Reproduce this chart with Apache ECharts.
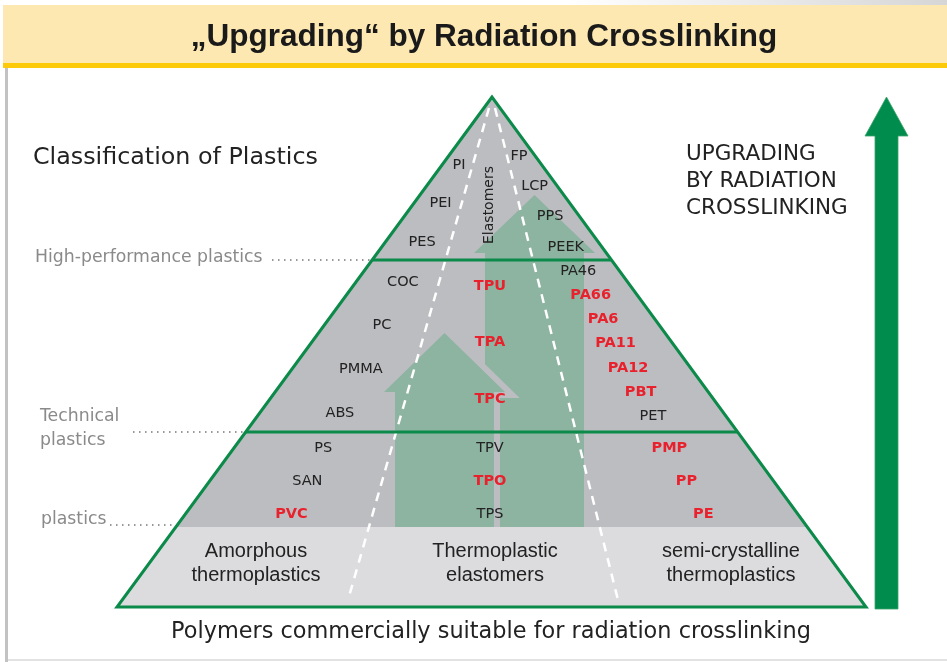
<!DOCTYPE html>
<html>
<head>
<meta charset="utf-8">
<script src="https://cdn.jsdelivr.net/npm/echarts/dist/echarts.min.js"></script>
<style>
  html, body { margin: 0; padding: 0; background: #fff; }
  #chart { width: 947px; height: 662px; }
</style>
</head>
<body>
<div id="chart"></div>
<script>
// tiers (top to bottom) and columns of the pyramid
const tierNames = ['High-performance plastics', 'Technical\nplastics', 'plastics']
const columnNames = ['Amorphous\nthermoplastics', 'Thermoplastic\nelastomers', 'semi-crystalline\nthermoplastics']

// polymers per column and tier
const amorphousHigh = ['PI', 'PEI', 'PES']
const amorphousTech = ['COC', 'PC', 'PMMA', 'ABS']
const amorphousStd = ['PS', 'SAN', 'PVC']
const elastomerTech = ['TPU', 'TPA', 'TPC']
const elastomerStd = ['TPV', 'TPO', 'TPS']
const crystallineHigh = ['FP', 'LCP', 'PPS', 'PEEK']
const crystallineTech = ['PA46', 'PA66', 'PA6', 'PA11', 'PA12', 'PBT', 'PET']
const crystallineStd = ['PMP', 'PP', 'PE']

// shown in red: commercially crosslinked by radiation
const crosslinkable = ['PVC', 'TPU', 'TPA', 'TPC', 'TPO', 'PA66', 'PA6', 'PA11', 'PA12', 'PBT', 'PMP', 'PP', 'PE']

const chartTitle = '\u201EUpgrading\u201C by Radiation Crosslinking'
const heading = 'Classification of Plastics'
const arrowText = 'UPGRADING\nBY RADIATION\nCROSSLINKING'
const footer = 'Polymers commercially suitable for radiation crosslinking'

// ---- layout ----
const GRAY = '#bcbdc1'
const LIGHT = '#dcdcdf'
const GREEN = '#0b8a4a'
const ARROW = '#8db3a1'
const RED = '#e8212c'
const INK = '#222222'
const MUTED = '#8a8a8a'
const SANS = '"DejaVu Sans", Verdana, sans-serif'
const NARROW = '"Liberation Sans", Arial, sans-serif'

const APEX = [492, 97]
const BASE_Y = 607
const BASE_L = 117
const BASE_R = 866
const TIER_Y = [260, 432, 527]

function edgeX(y, side) {
  const t = (y - APEX[1]) / (BASE_Y - APEX[1])
  return side < 0 ? APEX[0] - t * (APEX[0] - BASE_L) : APEX[0] + t * (BASE_R - APEX[0])
}

function arrowPts(cx, tipY, baseY, shaftHalf, headHalf, headH) {
  const hy = tipY + headH
  return [
    [cx - shaftHalf, baseY], [cx - shaftHalf, hy], [cx - headHalf, hy], [cx, tipY],
    [cx + headHalf, hy], [cx + shaftHalf, hy], [cx + shaftHalf, baseY]
  ]
}

// label guide lines per column
const guideX = [
  y => 459 - 0.48 * (y - 165),
  y => 490,
  y => 519 + 0.515 * (y - 156)
]
const groups = [
  { names: amorphousHigh, col: 0, y0: 165, dy: 38.5 },
  { names: amorphousTech, col: 0, y0: 282, dy: 43.7 },
  { names: amorphousStd, col: 0, y0: 448, dy: 33 },
  { names: elastomerTech, col: 1, y0: 286, dy: 56.5 },
  { names: elastomerStd, col: 1, y0: 448, dy: 33 },
  { names: crystallineHigh, col: 2, y0: 156, dy: 30.3 },
  { names: crystallineTech, col: 2, y0: 271, dy: 24.2 },
  { names: crystallineStd, col: 2, y0: 448, dy: 33 }
]
const labelData = []
groups.forEach(g => {
  g.names.forEach((n, i) => {
    const y = g.y0 + i * g.dy
    labelData.push([guideX[g.col](y), y, n])
  })
})

const columnX = [256, 495, 731]
const tierLabelPos = [[35, 258], [40, 429], [41, 520]]
const leaderStart = [272, 133, 110]

function renderPyramid(params, api) {
  const c = p => api.coord(p)
  const poly = (pts, style) => ({ type: 'polygon', shape: { points: pts.map(c) }, style })
  const seg = (a, b, style) => {
    const p = c(a), q = c(b)
    return { type: 'line', shape: { x1: p[0], y1: p[1], x2: q[0], y2: q[1] }, style }
  }
  const yS = TIER_Y[2]
  const leftArrow = arrowPts(444.5, 333, yS, 49.5, 60.5, 59)
  const children = [
    poly([APEX, [edgeX(yS, -1), yS], [edgeX(yS, 1), yS]], { fill: GRAY }),
    poly([[edgeX(yS, -1), yS], [BASE_L, BASE_Y], [BASE_R, BASE_Y], [edgeX(yS, 1), yS]], { fill: LIGHT }),
    poly(arrowPts(534.5, 195, yS, 49.5, 60.5, 58), { fill: ARROW }),
    { type: 'polyline', shape: { points: leftArrow.slice(3).map(c) }, style: { stroke: GRAY, lineWidth: 12, fill: null, lineJoin: 'miter' } },
    poly(leftArrow, { fill: ARROW }),
    seg([489, 108], [348, 600], { stroke: '#fff', lineWidth: 2.5, lineDash: [9, 7] }),
    seg([495, 108], [618, 600], { stroke: '#fff', lineWidth: 2.5, lineDash: [9, 7] })
  ]
  TIER_Y.slice(0, 2).forEach(y => {
    children.push(seg([edgeX(y, -1), y], [edgeX(y, 1), y], { stroke: GREEN, lineWidth: 3 }))
  })
  // leader lines from tier labels to the pyramid edge
  TIER_Y.forEach((y, i) => {
    const ly = i === 2 ? y - 2 : y
    children.push(seg([leaderStart[i], ly], [edgeX(ly, -1) - 2, ly], { stroke: '#333', lineWidth: 1.2, lineDash: [1.5, 4.5] }))
  })
  children.push(poly([APEX, [BASE_L, BASE_Y], [BASE_R, BASE_Y]], { fill: null, stroke: GREEN, lineWidth: 3, lineJoin: 'miter' }))
  // big upgrading arrow on the right
  children.push(poly(arrowPts(886.5, 97, 609, 11.5, 21.5, 39), { fill: '#008c4c', stroke: '#3aa36a', lineWidth: 0.8 }))
  return { type: 'group', children }
}

function renderPolymer(params, api) {
  const p = api.coord([api.value(0), api.value(1)])
  const name = labelData[params.dataIndex][2]
  const red = crosslinkable.includes(name)
  return {
    type: 'text', x: p[0], y: p[1],
    style: {
      text: name, fill: red ? RED : INK, fontFamily: SANS, fontSize: 14.5,
      fontWeight: red ? 'bold' : 'normal', align: 'center', verticalAlign: 'middle'
    }
  }
}

function renderColumn(params, api) {
  const p = api.coord([columnX[params.dataIndex], 563])
  return {
    type: 'text', x: p[0], y: p[1],
    style: {
      text: columnNames[params.dataIndex], fill: INK, fontFamily: NARROW, fontSize: 20,
      lineHeight: 24, align: 'center', verticalAlign: 'middle'
    }
  }
}

function renderTier(params, api) {
  const pos = tierLabelPos[params.dataIndex]
  const p = api.coord(pos)
  return {
    type: 'text', x: p[0], y: p[1],
    style: {
      text: tierNames[params.dataIndex], fill: MUTED, fontFamily: SANS, fontSize: 17.3,
      lineHeight: 24, align: 'left', verticalAlign: 'middle'
    }
  }
}

const chart = echarts.init(document.getElementById('chart'), null, { renderer: 'canvas' })

const option = {
  animation: false,
  backgroundColor: '#fff',
  grid: { left: 0, right: 0, top: 0, bottom: 0 },
  xAxis: { type: 'value', min: 0, max: 947, show: false },
  yAxis: { type: 'value', min: 0, max: 662, inverse: true, show: false },
  graphic: [
    { type: 'rect', shape: { x: 0, y: 0, width: 947, height: 5 }, style: { fill: new echarts.graphic.LinearGradient(0, 0, 1, 0, [{ offset: 0, color: '#fff' }, { offset: 0.6, color: '#fff' }, { offset: 1, color: '#d6d6d6' }]) }, z: -1 },
    { type: 'rect', shape: { x: 3, y: 5, width: 944, height: 58 }, style: { fill: '#fde8b1' }, z: -1 },
    { type: 'rect', shape: { x: 3, y: 63, width: 944, height: 5 }, style: { fill: '#fdca0a' }, z: -1 },
    { type: 'rect', shape: { x: 5, y: 68, width: 3, height: 594 }, style: { fill: '#c2c2c4' }, z: -1 },
    { type: 'rect', shape: { x: 8, y: 659, width: 939, height: 2 }, style: { fill: '#e2e2e2' }, z: -1 },
    {
      type: 'text', x: 484, y: 37,
      style: { text: chartTitle, fill: '#1a1a1a', fontFamily: NARROW, fontSize: 31.5, fontWeight: 'bold', align: 'center', verticalAlign: 'middle' }
    },
    {
      type: 'text', x: 33, y: 158,
      style: { text: heading, fill: INK, fontFamily: SANS, fontSize: 23.8, align: 'left', verticalAlign: 'middle' }
    },
    {
      type: 'text', x: 686, y: 181,
      style: { text: arrowText, fill: INK, fontFamily: SANS, fontSize: 21.5, lineHeight: 27, align: 'left', verticalAlign: 'middle' }
    },
    {
      type: 'text', x: 491, y: 632,
      style: { text: footer, fill: INK, fontFamily: SANS, fontSize: 22.4, align: 'center', verticalAlign: 'middle' }
    }
  ],
  series: [
    { type: 'custom', name: 'pyramid', renderItem: renderPyramid, data: [[0, 0]], silent: true, z: 1 },
    { type: 'custom', name: 'polymers', renderItem: renderPolymer, data: labelData.map(d => [d[0], d[1]]), silent: true, z: 3 },
    {
      type: 'custom', name: 'elastomers', silent: true, z: 3, data: [[489, 205]],
      renderItem(params, api) {
        const p = api.coord([api.value(0), api.value(1)])
        return { type: 'text', x: p[0], y: p[1], rotation: Math.PI / 2, style: { text: 'Elastomers', fill: INK, fontFamily: SANS, fontSize: 14, align: 'center', verticalAlign: 'middle' } }
      }
    },
    { type: 'custom', name: 'columns', renderItem: renderColumn, data: columnNames.map((n, i) => [i, 0]), silent: true, z: 3 },
    { type: 'custom', name: 'tiers', renderItem: renderTier, data: tierNames.map((n, i) => [i, 0]), silent: true, z: 3 }
  ]
}
chart.setOption(option)
</script>
</body>
</html>
